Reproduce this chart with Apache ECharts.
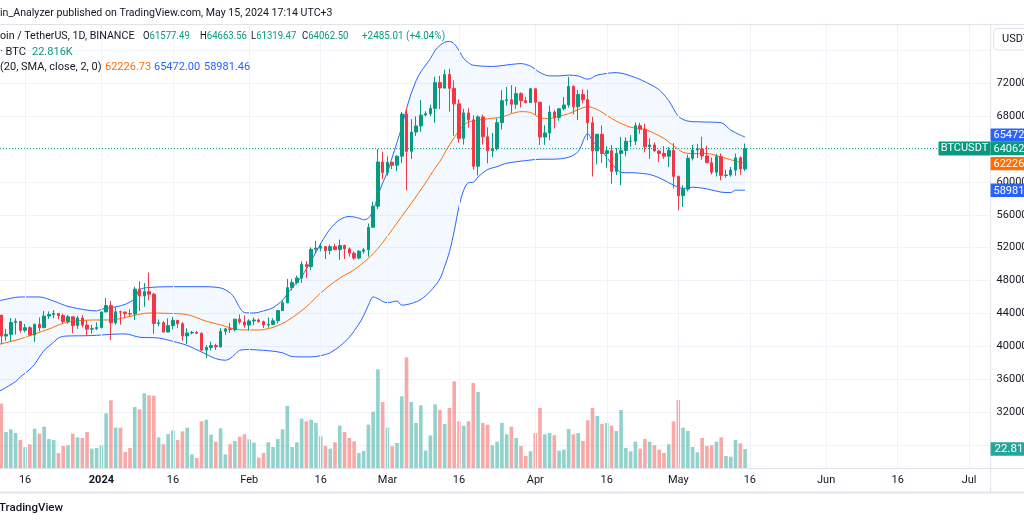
<!DOCTYPE html>
<html>
<head>
<meta charset="utf-8">
<script src="https://cdn.jsdelivr.net/npm/echarts@6/dist/echarts.min.js"></script>
<style>
html,body{margin:0;padding:0;background:#ffffff;}
#c{width:1024px;height:524px;}
</style>
</head>
<body>
<div id="c"></div>
<script>
// ---------- DATA ----------
// Daily categories from 2023-12-10 (index 0) through early July 2024
const firstDay = '2023-12-10';
const dayCount = 209;

// BTCUSDT daily OHLC, index 0 = 2023-12-10 ... index 157 = 2024-05-15
const opens = [43720,43790,41240,41450,42890,43020,41940,42260,41370,42660,42270,43670,43860,43990,43740,43020,43580,42520,43440,42580,42070,42140,
42280,44180,44960,42850,44190,44160,43970,43930,46960,46120,46650,46340,42780,42850,41730,42510,43150,42740,41260,41620,41670,41580,39530,39860,40080,39930,41820,42120,42030,43300,42950,
42580,43080,43190,43000,42580,42660,43090,44340,45290,47130,47750,48300,49960,49700,51800,51930,52130,51660,52120,51780,52260,51850,51320,50730,51570,51730,54480,57040,62430,
61130,62390,62030,63130,68250,63720,66070,66810,68130,68300,68950,72080,71430,73070,71390,69500,65300,68390,67550,61910,67910,65490,63780,64060,67210,69880,69990,69450,70740,69890,69650,
71330,69700,65460,65960,68510,67840,68900,69360,71620,69150,70630,70010,67200,63770,65800,63460,63800,61280,63470,63820,64940,64960,66840,66410,64280,64500,63760,63460,63120,63840,
60670,58320,59120,62890,63890,64010,63160,62330,61190,63070,60790,60830,61450,62930,61577.49];
const highs = [44040,43800,42100,43430,43400,43090,42720,42430,42760,43500,44280,44240,44400,44020,43950,43800,43600,43690,43800,43130,42600,42900,
44180,45880,45500,44770,44340,44230,44500,47250,47900,47700,48970,46500,43260,43080,43400,43570,43200,42930,42200,41870,41880,41690,40130,40560,40300,42200,42200,42840,43300,43880,43740,
43290,43480,43380,43120,43490,43400,44370,45600,48200,48170,48590,50340,50370,52040,52820,52580,52200,52370,52480,52990,52370,52020,51550,51690,51950,54940,57580,64000,63680,
63110,62430,63230,68500,69000,67640,67980,69990,68590,69400,72800,72900,73650,73780,72360,70040,68900,68950,68100,68100,68200,66650,65970,67730,71150,71560,71770,71550,70900,70360,71370,
71340,69700,66900,69290,68720,69000,70330,72800,71750,71170,71260,71230,67930,65840,66870,64360,64490,64130,65480,65430,65700,67240,67200,67080,65300,64800,63920,64360,64230,64730,
60780,59600,63320,64500,64630,65500,64390,62990,63400,63470,61490,61820,63450,63100,64663.56];
const lows = [43580,40220,40680,40560,41420,41660,41680,41250,40530,41800,42180,43330,43400,43290,42760,42730,41620,42100,42300,41300,41520,41970,
42180,44150,40750,42630,42630,43400,43600,43200,44300,44800,45600,41500,42430,41700,41720,42050,42200,40680,40280,41450,41500,39430,38550,39480,39550,39820,41390,41620,41800,42680,42270,
41880,42570,42880,42220,42260,42570,42790,44330,45240,46800,47530,47710,48300,49270,51300,51560,50620,51170,51670,50520,50620,50910,50520,50590,51280,50900,54450,56690,60360,
60770,61560,61300,62300,59000,62780,65600,66080,67970,68000,67200,68850,71330,68550,65600,64780,64540,66600,61500,60780,64530,62260,63000,63820,66390,69280,68380,68900,69060,69560,69630,
68100,64500,64500,65060,66500,67450,68710,69040,68210,67520,69570,65090,60660,62130,62300,61720,59770,60830,59600,63110,64280,64500,65860,63600,62800,63700,62400,62800,61800,59190,
56550,56940,58850,62600,62900,62700,62860,60890,60660,60190,60500,60630,60750,60880,61319.47];
const closes = [43790,41240,41450,42890,43020,41940,42260,41370,42660,42270,43670,43860,43990,43740,43020,43580,42520,43440,42580,42070,42140,42280,
44180,44960,42850,44190,44160,43970,43930,46960,46120,46650,46340,42780,42850,41730,42510,43150,42740,41260,41620,41670,41580,39530,39860,40080,39930,41820,42120,42030,43300,42950,42580,
43080,43190,43000,42580,42660,43090,44340,45290,47130,47750,48300,49960,49700,51800,51930,52130,51660,52120,51780,52260,51850,51320,50730,51570,51730,54480,57040,62430,61130,
62390,62030,63130,68250,63720,66070,66810,68130,68300,68950,72080,71430,73070,71390,69500,65300,68390,67550,61910,67910,65490,63780,64060,67210,69880,69990,69450,70740,69890,69650,71330,
69700,65460,65960,68510,67840,68900,69360,71620,69150,70630,70010,67200,63770,65800,63460,63800,61280,63470,63820,64940,64960,66840,66410,64280,64500,63760,63460,63120,63840,60670,
58320,59120,62890,63890,64010,63160,62330,61190,63070,60790,60830,61450,62930,61577.49,64062.50];

// Volume (thousand BTC), same indexing
const volumes = [25.0,77.2,43.2,46.4,42.0,33.6,25.2,28.4,47.2,41.2,49.6,34.8,33.6,18.0,26.4,27.2,41.2,36.8,36.0,43.2,23.2,24.0,
27.2,65.6,81.2,48.4,48.4,19.2,24.0,73.2,70.4,89.6,87.2,86.8,36.8,28.4,40.8,45.2,33.6,44.0,48.4,16.4,12.0,56.0,58.0,40.0,31.6,47.6,16.4,28.4,32.4,37.6,40.4,
34.4,30.4,12.4,18.0,30.8,25.2,34.8,46.4,74.4,25.2,30.8,59.2,56.0,58.0,54.0,38.0,26.4,23.2,30.8,50.8,43.2,36.0,32.0,18.0,20.4,52.0,67.6,118.4,79.2,
48.4,26.0,30.0,86.0,132.8,79.2,54.0,75.2,20.8,39.2,76.4,69.6,52.8,72.0,104.0,56.0,50.8,56.0,102.0,91.2,54.0,52.0,27.2,31.6,54.0,40.4,49.6,36.0,26.4,14.4,20.0,
42.0,72.0,40.4,42.0,39.2,20.8,22.0,46.8,40.4,42.0,32.4,57.2,72.0,62.4,52.8,54.0,50.8,44.4,69.6,24.0,20.0,31.6,23.2,34.8,31.6,27.2,22.0,18.0,28.4,56.0,
81.6,48.4,44.4,25.2,18.8,36.0,26.4,27.2,31.6,36.8,14.4,13.6,33.6,29.6,22.816];

// Bollinger Bands (20, 2): [day index, price]
const bbUpper = [[0,45500],[1,45600],[5,46000],[9,46000],[12,45500],[15,44850],[19,44400],[21,44300],[22,44500],[25,44800],[27,45100],[29,45800],[30,46900],[32,47150],[37,47250],[43,47250],[47,47100],[49,46500],[50,45800],[51,44700],[52,44100],[54,44050],[56,44300],[58,44700],[60,45600],[61,46400],[62,47100],[64,48500],[66,50400],[68,52500],[70,54300],[72,55400],[74,55800],[76,55600],[77,55400],[78,55600],[79,56500],[80,58300],[81,59900],[82,61200],[83,63000],[84,64800],[85,66700],[86,68900],[87,70800],[88,72300],[89,73400],[90,74200],[91,75000],[92,76000],[93,76600],[94,77000],[95,77100],[96,76800],[97,76000],[98,75000],[99,74500],[100,74200],[104,74050],[108,74300],[110,74400],[112,74100],[113,73700],[114,73300],[116,72900],[118,72900],[120,73000],[122,72900],[124,72500],[125,72700],[126,73000],[130,73300],[134,72700],[137,71900],[139,71200],[141,69900],[143,68000],[145,67400],[148,67300],[152,67200],[154,66300],[156,65700],[157,65472.00]];
const bbBasis = [[0,40200],[1,40300],[5,40900],[8,41500],[11,42100],[14,42800],[17,43100],[21,43200],[24,43200],[27,43500],[30,43900],[32,44050],[36,44000],[40,43850],[44,43050],[47,42600],[51,42000],[55,41980],[58,42300],[61,43100],[65,44800],[68,46500],[72,48300],[75,49300],[78,50700],[80,51900],[82,53400],[84,55000],[86,56600],[88,58200],[90,59900],[92,61700],[93,62500],[94,63500],[95,64500],[96,65400],[97,66200],[98,66900],[99,67300],[102,67600],[106,67900],[108,68300],[110,68550],[112,68450],[114,67800],[116,67700],[118,68000],[120,68300],[122,68800],[124,69150],[126,68800],[128,68100],[130,67400],[133,66650],[136,66400],[138,65900],[140,65300],[142,64400],[144,63600],[146,63450],[149,63450],[151,63200],[154,62700],[157,62226.73]];
const bbLower = [[0,34400],[1,34650],[4,35700],[5,36260],[7,37200],[8,37800],[9,38700],[10,39500],[11,40000],[12,40500],[13,41000],[14,41200],[15,41250],[20,41300],[24,41450],[27,41500],[30,41100],[34,41000],[37,40600],[40,40100],[43,39300],[46,38500],[48,38300],[49,38500],[50,39000],[51,39500],[53,39600],[56,39500],[58,39400],[60,39200],[62,38750],[65,38700],[67,38750],[69,39000],[70,39200],[72,40000],[74,41100],[76,42700],[77,43700],[78,45000],[79,46000],[80,45800],[81,45450],[82,45300],[84,45500],[85,45000],[87,45200],[89,45700],[91,46700],[93,48200],[94,49700],[95,51500],[96,54000],[97,57000],[98,59000],[99,59900],[100,59950],[101,60600],[103,61500],[105,61860],[107,62270],[111,62590],[114,62760],[117,62770],[120,63000],[122,63700],[124,65900],[125,65000],[127,63800],[128,63000],[129,62200],[130,61600],[131,61150],[134,61100],[137,60900],[139,60500],[141,59900],[144,59200],[146,59350],[149,59150],[152,58750],[154,58700],[155,59000],[157,58981.46]];

const priceTickLabels = [32000,36000,40000,44000,48000,52000,56000,60000,64000,68000,72000];
const monthNames = ['Jan','Feb','Mar','Apr','May','Jun','Jul','Aug','Sep','Oct','Nov','Dec'];

// ---------- BUILD ----------
const dates = [];
(function(){
  const d0 = new Date(firstDay + 'T00:00:00Z');
  for (let i = 0; i < dayCount; i++) {
    const d = new Date(d0.getTime() + i * 86400000);
    dates.push(d.toISOString().slice(0, 10));
  }
})();
const isLabelDay = v => { const dd = v.slice(8, 10); return dd === '01' || dd === '16'; };
const gridDays = dates.filter(isLabelDay);

const FONT = 'Roboto, "Noto Sans", Arial, sans-serif';
const TXT = '#131722';
const UP = '#089981', DOWN = '#f23645';
const BLUE = '#2962ff', ORANGE = '#ff6d00';
const GRIDC = '#f0f3fa';

const candleData = opens.map((o, i) => [o, closes[i], lows[i], highs[i]]);
const volData = volumes.map((v, i) => ({
  value: v,
  itemStyle: { color: closes[i] >= opens[i] ? 'rgba(38,166,154,0.5)' : 'rgba(239,83,80,0.5)' }
}));

const G_LEFT = -5.9, G_RIGHT = 33.4;

const option = {
  animation: false,
  backgroundColor: '#ffffff',
  textStyle: { fontFamily: FONT },
  grid: [
    { left: G_LEFT, right: G_RIGHT, top: 17.56, bottom: 46.26, outerBoundsMode: 'none', containLabel: false },
    { left: G_LEFT, right: G_RIGHT, top: 24, bottom: 56, outerBoundsMode: 'none', containLabel: false }
  ],
  xAxis: [
    { type: 'category', gridIndex: 0, data: dates, boundaryGap: true, show: false },
    { type: 'category', gridIndex: 1, data: dates, boundaryGap: true, z: 20,
      axisLine: { show: false }, axisTick: { show: false }, splitLine: { show: false },
      axisLabel: {
        interval: (idx, v) => isLabelDay(v),
        margin: 7, color: TXT, fontSize: 11, fontFamily: FONT,
        formatter: v => {
          const m = +v.slice(5, 7), dd = v.slice(8, 10);
          if (dd === '16') return '16';
          if (m === 1) return '{b|' + v.slice(0, 4) + '}';
          return monthNames[m - 1];
        },
        rich: { b: { fontWeight: 'bold', fontSize: 11, color: TXT, fontFamily: FONT } }
      }
    }
  ],
  yAxis: [
    { type: 'value', gridIndex: 0, position: 'right', min: 24000, max: 80000, interval: 4000, z: 0,
      axisLine: { show: false }, axisTick: { show: false },
      splitLine: { show: true, lineStyle: { color: GRIDC, width: 1 } },
      axisLabel: { margin: 6, color: TXT, fontSize: 11, fontFamily: FONT,
        formatter: v => priceTickLabels.indexOf(v) >= 0 ? String(v) : '' } },
    { type: 'value', gridIndex: 1, min: 0, max: 532.8, show: false, splitLine: { show: false } }
  ],
  series: [
    { name: 'bbFill', type: 'custom', xAxisIndex: 0, yAxisIndex: 0, z: 1, silent: true,
      data: [[0, 50000]],
      renderItem: (params, api) => {
        const pts = bbUpper.map(p => api.coord(p)).concat(bbLower.slice().reverse().map(p => api.coord(p)));
        return { type: 'polygon', shape: { points: pts }, style: { fill: 'rgba(33,150,243,0.055)' } };
      },
      markLine: { silent: true, symbol: ['none', 'none'], label: { show: false },
        lineStyle: { color: GRIDC, type: 'solid', width: 1 },
        data: gridDays.map(d => ({ xAxis: d })) }
    },
    { name: 'Volume', type: 'bar', xAxisIndex: 1, yAxisIndex: 1, data: volData, barWidth: '76%', z: 2, silent: true },
    { name: 'Upper', type: 'line', xAxisIndex: 0, yAxisIndex: 0, data: bbUpper, showSymbol: false, smooth: 0.3,
      lineStyle: { color: BLUE, width: 1 }, z: 3, silent: true },
    { name: 'Lower', type: 'line', xAxisIndex: 0, yAxisIndex: 0, data: bbLower, showSymbol: false, smooth: 0.3,
      lineStyle: { color: BLUE, width: 1 }, z: 3, silent: true },
    { name: 'Basis', type: 'line', xAxisIndex: 0, yAxisIndex: 0, data: bbBasis, showSymbol: false, smooth: 0.3,
      lineStyle: { color: ORANGE, width: 1 }, z: 3, silent: true },
    { name: 'BTCUSDT', type: 'candlestick', xAxisIndex: 0, yAxisIndex: 0, data: candleData, barWidth: 3, z: 5, silent: true,
      itemStyle: { color: UP, color0: DOWN, borderColor: UP, borderColor0: DOWN, borderWidth: 1 },
      markLine: { silent: true, symbol: ['none', 'none'], label: { show: false },
        lineStyle: { color: UP, type: [1, 2], width: 1 },
        data: [{ yAxis: closes[closes.length - 1] }] }
    }
  ]
};

const chart = echarts.init(document.getElementById('c'), null, { renderer: 'canvas' });
chart.setOption(option);

// ---------- OVERLAYS (texts, frame, tags) ----------
function txt(x, y, text, opt) {
  opt = opt || {};
  const el = { type: 'text', x: x, y: y, z: opt.z || 30, silent: true,
    style: { text: text, fill: opt.color || TXT, font: (opt.weight || 'normal') + ' ' + (opt.size || 11) + 'px ' + FONT,
      textVerticalAlign: 'middle', verticalAlign: 'middle', textAlign: opt.align || 'left', align: opt.align || 'left', rich: opt.rich } };
  if (opt.sx) el.scaleX = opt.sx;
  return el;
}
function hline(y, x1, x2, color, w) {
  return { type: 'line', z: 25, silent: true, shape: { x1: x1, y1: y, x2: x2, y2: y }, style: { stroke: color, lineWidth: w || 1 } };
}
function vline(x, y1, y2, color, w) {
  return { type: 'line', z: 25, silent: true, shape: { x1: x, y1: y1, x2: x, y2: y2 }, style: { stroke: color, lineWidth: w || 1 } };
}

const py = v => chart.convertToPixel({ yAxisIndex: 0 }, v);
const vy = v => chart.convertToPixel({ yAxisIndex: 1 }, v);
const axisX = 990.6;

const g = [];
// white covers for header and footer zones
g.push({ type: 'rect', z: 10, silent: true, shape: { x: 0, y: 0, width: 1024, height: 24 }, style: { fill: '#ffffff' } });
g.push({ type: 'rect', z: 10, silent: true, shape: { x: 0, y: 468.5, width: 1024, height: 56 }, style: { fill: '#ffffff' } });
// frame lines
g.push(hline(24.5, 0, 1024, '#e0e3eb', 1));
g.push(hline(468.5, 0, 1024, '#e0e3eb', 1));
g.push(hline(492.5, 0, 1024, '#e0e3eb', 2));
g.push(vline(axisX, 24.5, 492, '#e0e3eb', 1));

// header
g.push(txt(0, 13, 'in_Analyzer published on TradingView.com, May 15, 2024 17:14 UTC+3', { color: '#131722', size: 11, sx: 0.965 }));
// legend row 1
g.push(txt(0, 36, 'oin / TetherUS, 1D, BINANCE', { sx: 0.97 }));
const ohlc = [['O', opens[opens.length - 1].toFixed(2), 143], ['H', highs[highs.length - 1].toFixed(2), 200],
              ['L', lows[lows.length - 1].toFixed(2), 251], ['C', closes[closes.length - 1].toFixed(2), 302]];
ohlc.forEach(it => g.push(txt(it[2], 36, '{k|' + it[0] + '}{v|' + it[1] + '}', { sx: 0.87,
  rich: { k: { fill: TXT, color: TXT, font: '11px ' + FONT }, v: { fill: UP, color: UP, font: '11px ' + FONT } } })));
g.push(txt(362, 36, '+2485.01 (+4.04%)', { color: UP, sx: 0.9 }));
// legend row 2
g.push(txt(0, 52, '· BTC'));
g.push(txt(32, 52, '22.816K', { color: UP }));
// legend row 3
g.push(txt(0, 67, '(20, SMA, close, 2, 0)'));
g.push(txt(105, 67, bbBasis[bbBasis.length - 1][1].toFixed(2), { color: ORANGE }));
g.push(txt(154, 67, bbUpper[bbUpper.length - 1][1].toFixed(2), { color: BLUE }));
g.push(txt(204, 67, bbLower[bbLower.length - 1][1].toFixed(2), { color: BLUE }));

// USDT button
g.push({ type: 'rect', z: 26, silent: true, shape: { x: 993.5, y: 28.5, width: 45, height: 21.5, r: 4 },
  style: { fill: '#ffffff', stroke: '#e0e3eb', lineWidth: 1 } });
g.push(txt(1002, 39.5, 'USDT', { z: 27 }));

// footer brand
g.push(txt(-1, 508, 'TradingView', { size: 11.5, weight: '500' }));

// last price dotted line label box
const yClose = py(closes[closes.length - 1]);
g.push({ type: 'rect', z: 26, silent: true, shape: { x: 938.5, y: yClose - 7, width: 52, height: 14, r: 1 }, style: { fill: UP } });
g.push(txt(964.5, yClose, 'BTCUSDT', { color: '#ffffff', align: 'center', z: 27 }));

// price scale tags
const H = 13.4;
const tags = [
  { v: closes[closes.length - 1], t: closes[closes.length - 1].toFixed(2), c: UP, primary: true },
  { v: bbUpper[bbUpper.length - 1][1], t: bbUpper[bbUpper.length - 1][1].toFixed(2), c: BLUE },
  { v: bbBasis[bbBasis.length - 1][1], t: bbBasis[bbBasis.length - 1][1].toFixed(2), c: ORANGE },
  { v: bbLower[bbLower.length - 1][1], t: bbLower[bbLower.length - 1][1].toFixed(2), c: BLUE }
];
tags.forEach(t => t.y = py(t.v));
const y0 = tags[0].y;
tags.forEach(t => {
  if (t.primary) return;
  if (Math.abs(t.y - y0) < H) t.y = t.y < y0 ? y0 - H : y0 + H;
});
tags.forEach(t => {
  g.push({ type: 'rect', z: 26, silent: true, shape: { x: axisX, y: t.y - H / 2, width: 40, height: H }, style: { fill: t.c } });
  g.push(txt(993.5, t.y + 0.5, t.t, { color: '#ffffff', z: 27 }));
});
// volume tag
const yVol = vy(volumes[volumes.length - 1]);
g.push({ type: 'rect', z: 26, silent: true, shape: { x: axisX, y: yVol - H / 2, width: 40, height: H }, style: { fill: '#26a69a' } });
g.push(txt(994.5, yVol + 0.5, volumes[volumes.length - 1].toFixed(3) + 'K', { color: '#ffffff', z: 27, size: 11.5 }));

chart.setOption({ graphic: { elements: g } });
</script>
</body>
</html>
